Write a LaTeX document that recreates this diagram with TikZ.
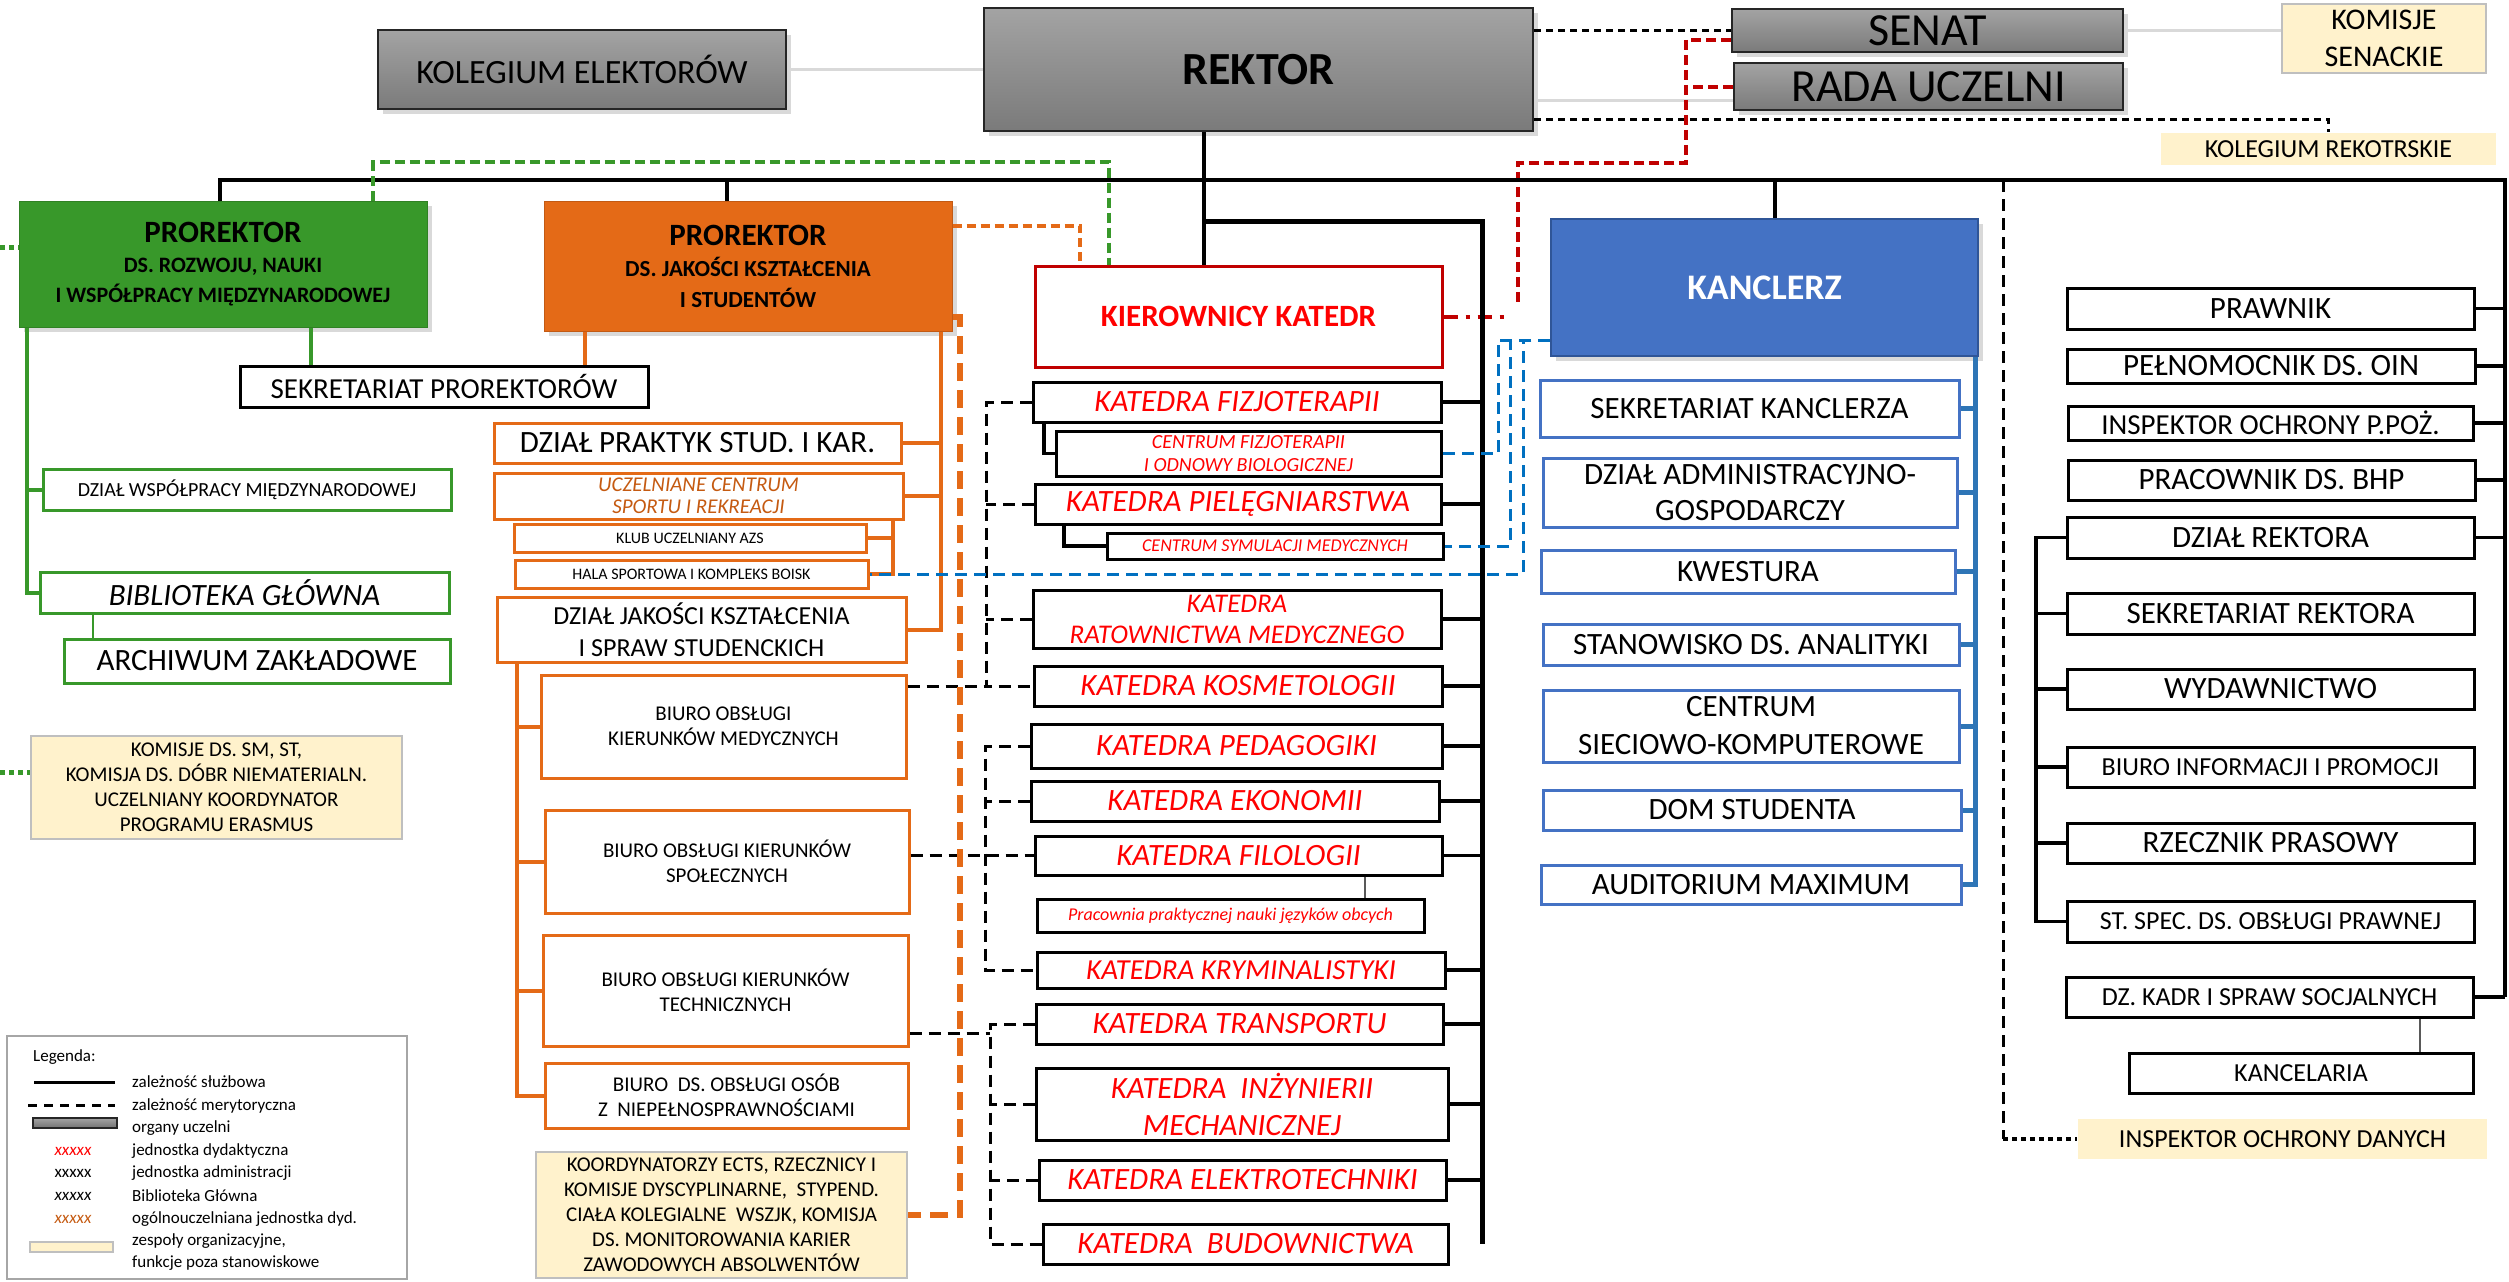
\documentclass[tikz,border=0pt]{standalone}
\usepackage{fontspec}
\setmainfont{Carlito}
\usepackage{tikz}
\usetikzlibrary{shadows}

\definecolor{grn}{HTML}{38982A}
\definecolor{orng}{HTML}{E46A17}
\definecolor{kblue}{HTML}{4472C4}
\definecolor{kblueb}{HTML}{2F5597}
\definecolor{cream}{HTML}{FFF2CC}
\definecolor{creamb}{HTML}{BFBFBF}
\definecolor{kred}{HTML}{FF0000}
\definecolor{dred}{HTML}{C00000}
\definecolor{brwn}{HTML}{C55A11}
\definecolor{ldblue}{HTML}{0070C0}
\definecolor{trblue}{HTML}{2E75B6}
\definecolor{lgray}{HTML}{D9D9D9}

\newcommand{\fsz}[2]{\fontsize{#1}{#2}\selectfont}

\tikzset{
  shad/.style={drop shadow={shadow xshift=5pt, shadow yshift=-5pt, opacity=.3}},
  organ/.style={draw=black!85, line width=2.5pt, top color=black!36, bottom color=black!52, shad, inner sep=0pt, align=center},
  team/.style={draw=creamb, line width=2pt, fill=cream, inner sep=0pt, align=center},
  unit/.style={draw, line width=3pt, fill=white, inner sep=0pt, align=center, font=\fsz{31}{37}},
  katbox/.style={unit, text=kred, font=\fsz{31}{37}\itshape},
  obox/.style={unit, draw=orng},
  gbox/.style={unit, draw=grn},
  kbox/.style={unit, draw=kblue},
  legtxt/.style={inner sep=0pt, anchor=west, font=\fsz{17}{20}},
  kline/.style={line width=3.5pt},
  bus/.style={line width=4.5pt},
  kdash/.style={line width=3pt, dash pattern=on 12pt off 7pt},
  kdot/.style={line width=3.5pt, dash pattern=on 7pt off 5pt},
  gline/.style={grn, line width=4pt},
  gthin/.style={grn, line width=2pt},
  gdash/.style={grn, line width=4.5pt, dash pattern=on 10pt off 5pt},
  gdot/.style={grn, line width=5pt, dash pattern=on 5pt off 4pt},
  oline/.style={orng, line width=4pt},
  odash/.style={orng, line width=6pt, dash pattern=on 18pt off 9pt},
  odashb/.style={orng, line width=4pt, dash pattern=on 9pt off 5pt},
  rdash/.style={dred, line width=4pt, dash pattern=on 10pt off 5pt},
  rdashdot/.style={dred, line width=4pt, dash pattern=on 14pt off 8pt on 4pt off 8pt},
  bdash/.style={ldblue, line width=3pt, dash pattern=on 12pt off 7pt},
  bline/.style={trblue, line width=5pt},
  glink/.style={lgray, line width=3pt},
  thinlink/.style={black!65, line width=2pt}
}

\begin{document}
\begin{tikzpicture}[x=1pt,y=-1pt]
\useasboundingbox (0,0) rectangle (2509,1282);

% organy uczelni
\node[organ, minimum width=408, minimum height=79, font=\fsz{34}{40}] (kolegium) at (582,69.5) {KOLEGIUM ELEKTORÓW};
\node[organ, minimum width=549, minimum height=123, font=\fsz{46}{52}\bfseries] (rektor) at (1258.5,69.5) {REKTOR};
\node[organ, minimum width=391, minimum height=43, font=\fsz{46}{52}] (senat) at (1927.5,30.5) {SENAT};
\node[organ, minimum width=389, minimum height=47, font=\fsz{46}{52}] (rada) at (1928.5,86.5) {RADA UCZELNI};
\node[team, minimum width=204, minimum height=69, font=\fsz{30}{37}] (komsen) at (2384,38.5) {KOMISJE\\SENACKIE};
\node[team, draw=none, minimum width=335, minimum height=32, font=\fsz{26}{30}] (kolrekt) at (2328.5,149) {KOLEGIUM REKOTRSKIE};

% prorektorzy
\node[fill=grn, draw=grn!85!black, line width=1pt, shad, inner sep=0pt, align=center, minimum width=408, minimum height=126, font=\fsz{22}{30}\bfseries] (gpro) at (223,264) {{\fsz{31}{30}PROREKTOR}\\DS. ROZWOJU, NAUKI\\I WSPÓŁPRACY MIĘDZYNARODOWEJ};
\node[fill=orng, draw=orng!85!black, line width=1pt, shad, inner sep=0pt, align=center, minimum width=408, minimum height=130, font=\fsz{23}{31}\bfseries] (opro) at (748,266) {{\fsz{31}{30}PROREKTOR}\\DS. JAKOŚCI KSZTAŁCENIA\\I STUDENTÓW};
\node[unit, minimum width=408, minimum height=41, font=\fsz{29}{34}] (sekrpro) at (444,386.5) {SEKRETARIAT PROREKTORÓW};

% pion prorektora ds. rozwoju
\node[gbox, minimum width=408, minimum height=41, font=\fsz{20}{24}] (dwsp) at (247,489.5) {DZIAŁ WSPÓŁPRACY MIĘDZYNARODOWEJ};
\node[gbox, minimum width=409, minimum height=41, font=\fsz{31}{36}\itshape] (bib) at (244.5,592.5) {BIBLIOTEKA GŁÓWNA};
\node[gbox, minimum width=386, minimum height=44, font=\fsz{31}{36}] (arch) at (257,661) {ARCHIWUM ZAKŁADOWE};
\node[team, minimum width=371, minimum height=103, font=\fsz{21}{25}] (ksm) at (216.5,787.5) {KOMISJE DS. SM, ST,\\KOMISJA DS. DÓBR NIEMATERIALN.\\UCZELNIANY KOORDYNATOR\\PROGRAMU ERASMUS};

% pion prorektora ds. jakosci
\node[obox, minimum width=407, minimum height=40] (praktyk) at (697.5,443) {DZIAŁ PRAKTYK STUD. I KAR.};
\node[obox, minimum width=409, minimum height=46, text=brwn, font=\fsz{21}{22}\itshape] (ucsport) at (698.5,496) {UCZELNIANE CENTRUM\\SPORTU I REKREACJI};
\node[obox, minimum width=352, minimum height=28, font=\fsz{16}{18}] (klub) at (690,538) {KLUB UCZELNIANY AZS};
\node[obox, minimum width=353, minimum height=28, font=\fsz{16}{18}] (hala) at (691.5,574) {HALA SPORTOWA I KOMPLEKS BOISK};
\node[obox, minimum width=409, minimum height=65, font=\fsz{26}{32}] (djak) at (701.5,629.5) {DZIAŁ JAKOŚCI KSZTAŁCENIA\\I SPRAW STUDENCKICH};
\node[obox, minimum width=365, minimum height=103, font=\fsz{21}{25}] (bmed) at (723.5,726.5) {BIURO OBSŁUGI\\KIERUNKÓW MEDYCZNYCH};
\node[obox, minimum width=364, minimum height=103, font=\fsz{21}{25}] (bspol) at (727,861.5) {BIURO OBSŁUGI KIERUNKÓW\\SPOŁECZNYCH};
\node[obox, minimum width=365, minimum height=111, font=\fsz{21}{25}] (btech) at (725.5,990.5) {BIURO OBSŁUGI KIERUNKÓW\\TECHNICZNYCH};
\node[obox, minimum width=363, minimum height=65, font=\fsz{21}{25}] (bniep) at (726.5,1095.5) {BIURO\ \ DS. OBSŁUGI OSÓB\\Z\ \ NIEPEŁNOSPRAWNOŚCIAMI};
\node[team, minimum width=371, minimum height=126, font=\fsz{21}{25}] (koord) at (721.5,1215) {KOORDYNATORZY ECTS, RZECZNICY I\\KOMISJE DYSCYPLINARNE,\ \ STYPEND.\\CIAŁA KOLEGIALNE\ \ WSZJK, KOMISJA\\DS. MONITOROWANIA KARIER\\ZAWODOWYCH ABSOLWENTÓW};

% katedry
\node[unit, draw=dred, text=kred, minimum width=407, minimum height=101, font=\fsz{31}{37}\bfseries] (kier) at (1238.5,316.5) {KIEROWNICY KATEDR};
\node[katbox, minimum width=408, minimum height=40] (kfizjo) at (1237,402) {KATEDRA FIZJOTERAPII};
\node[katbox, minimum width=385, minimum height=45, font=\fsz{20}{23}\itshape] (cfizjo) at (1248.5,453.5) {CENTRUM FIZJOTERAPII\\I ODNOWY BIOLOGICZNEJ};
\node[katbox, minimum width=406, minimum height=40] (kpiel) at (1238,504) {KATEDRA PIELĘGNIARSTWA};
\node[katbox, minimum width=336, minimum height=26, font=\fsz{18}{22}\itshape] (csym) at (1275,546) {CENTRUM SYMULACJI MEDYCZNYCH};
\node[katbox, minimum width=408, minimum height=58, font=\fsz{27}{31}\itshape] (kratow) at (1237,619) {KATEDRA\\RATOWNICTWA MEDYCZNEGO};
\node[katbox, minimum width=408, minimum height=40] (kkosm) at (1238,686) {KATEDRA KOSMETOLOGII};
\node[katbox, minimum width=411, minimum height=44] (kpedag) at (1236.5,746) {KATEDRA PEDAGOGIKI};
\node[katbox, minimum width=408, minimum height=40] (kekon) at (1235,801) {KATEDRA EKONOMII};
\node[katbox, minimum width=407, minimum height=39] (kfilol) at (1238.5,855.5) {KATEDRA FILOLOGII};
\node[katbox, minimum width=387, minimum height=33, font=\fsz{18}{22}\itshape] (prac) at (1230.5,915.5) {Pracownia praktycznej nauki języków obcych};
\node[katbox, minimum width=408, minimum height=36, font=\fsz{29}{34}\itshape] (kkrym) at (1241,970) {KATEDRA KRYMINALISTYKI};
\node[katbox, minimum width=407, minimum height=40] (ktransp) at (1239.5,1024) {KATEDRA TRANSPORTU};
\node[katbox, minimum width=412, minimum height=72] (kinz) at (1242,1104) {KATEDRA\ \ INŻYNIERII\\MECHANICZNEJ};
\node[katbox, minimum width=407, minimum height=40] (kelektro) at (1242.5,1180) {KATEDRA ELEKTROTECHNIKI};
\node[katbox, minimum width=405, minimum height=40] (kbudow) at (1245.5,1244) {KATEDRA\ \ BUDOWNICTWA};

% kanclerz
\node[fill=kblue, draw=kblueb, line width=2pt, shad, text=white, inner sep=0pt, minimum width=427, minimum height=137, font=\fsz{36}{40}\bfseries] (kanc) at (1764.5,287.5) {KANCLERZ};
\node[kbox, minimum width=419, minimum height=57] (sekrk) at (1749.5,408.5) {SEKRETARIAT KANCLERZA};
\node[kbox, minimum width=414, minimum height=69, font=\fsz{31}{36}] (admin) at (1750,492.5) {DZIAŁ ADMINISTRACYJNO-\\GOSPODARCZY};
\node[kbox, minimum width=414, minimum height=43] (kwest) at (1748,571.5) {KWESTURA};
\node[kbox, minimum width=416, minimum height=41] (anal) at (1751,644.5) {STANOWISKO DS. ANALITYKI};
\node[kbox, minimum width=416, minimum height=72, font=\fsz{31}{38}] (csiec) at (1751,726) {CENTRUM\\SIECIOWO-KOMPUTEROWE};
\node[kbox, minimum width=418, minimum height=40] (dom) at (1752,810) {DOM STUDENTA};
\node[kbox, minimum width=420, minimum height=39] (audit) at (1751,884.5) {AUDITORIUM MAXIMUM};

% jednostki podlegle rektorowi
\node[unit, minimum width=407, minimum height=41] (prawnik) at (2270.5,308.5) {PRAWNIK};
\node[unit, minimum width=408, minimum height=34] (oin) at (2271,366) {PEŁNOMOCNIK DS. OIN};
\node[unit, minimum width=405, minimum height=34, font=\fsz{29}{34}] (ppoz) at (2270.5,423) {INSPEKTOR OCHRONY P.POŻ.};
\node[unit, minimum width=407, minimum height=40] (bhp) at (2271.5,480) {PRACOWNIK DS. BHP};
\node[unit, minimum width=407, minimum height=41] (dzrek) at (2270.5,537.5) {DZIAŁ REKTORA};
\node[unit, minimum width=407, minimum height=41] (sekrek) at (2270.5,613.5) {SEKRETARIAT REKTORA};
\node[unit, minimum width=407, minimum height=40] (wyd) at (2270.5,689) {WYDAWNICTWO};
\node[unit, minimum width=407, minimum height=40, font=\fsz{26}{30}] (bip) at (2270.5,767) {BIURO INFORMACJI I PROMOCJI};
\node[unit, minimum width=407, minimum height=40] (rzecz) at (2270.5,843) {RZECZNIK PRASOWY};
\node[unit, minimum width=407, minimum height=41, font=\fsz{26}{30}] (stspec) at (2270.5,921.5) {ST. SPEC. DS. OBSŁUGI PRAWNEJ};
\node[unit, minimum width=407, minimum height=40, font=\fsz{26}{30}] (dzkadr) at (2269.5,997) {DZ. KADR I SPRAW SOCJALNYCH};
\node[unit, minimum width=344, minimum height=40, font=\fsz{26}{30}] (kancel) at (2301,1073) {KANCELARIA};
\node[team, draw=none, minimum width=409, minimum height=40, font=\fsz{26}{30}] (iod) at (2282.5,1139) {INSPEKTOR OCHRONY DANYCH};

% polaczenia organow
\draw[glink] (kolegium.east) -- (rektor.west);
\draw[kdot] (rektor.east |- senat.west) -- (senat.west);
\draw[glink] (rektor.east |- 0,100) -- (rada.west |- 0,100);
\draw[glink] (senat.east) -- (komsen.west |- senat.east);
\draw[kdot] ([yshift=13pt]rektor.south east) -| (kolrekt.north);
\draw[rdash] ([yshift=-9pt]senat.west) -| (1686,163) -| (1518,305);
\draw[rdash] (rada.west) -- (1686,0 |- rada.west);
\draw[rdashdot] (kier.east) -- (1505,0 |- kier.east);

% zaleznosc sluzbowa
\draw[bus] (220,0 |- gpro.north) |- (2505,180) -- (2505,0 |- dzkadr.east);
\draw[bus] (727,0 |- opro.north) -- (727,180);
\draw[kline] (1204,0 |- rektor.south) -- (1204,0 |- kier.north);
\draw[kline] (1775,0 |- kanc.north) -- (1775,180);
\draw[line width=5pt] (1204,221) -| (1482,0 |- kbudow.east);
\draw[kline] (kfizjo.east) -- (1482,0 |- kfizjo.east);
\draw[kline] (kpiel.east) -- (1482,0 |- kpiel.east);
\draw[kline] (kratow.east) -- (1482,0 |- kratow.east);
\draw[kline] (kkosm.east) -- (1482,0 |- kkosm.east);
\draw[kline] (kpedag.east) -- (1482,0 |- kpedag.east);
\draw[kline] (kekon.east) -- (1482,0 |- kekon.east);
\draw[kline] (kfilol.east) -- (1482,0 |- kfilol.east);
\draw[kline] (kkrym.east) -- (1482,0 |- kkrym.east);
\draw[kline] (ktransp.east) -- (1482,0 |- ktransp.east);
\draw[kline] (kinz.east) -- (1482,0 |- kinz.east);
\draw[kline] (kelektro.east) -- (1482,0 |- kelektro.east);
\draw[kline] (kfizjo.south -| 1044,0) |- (cfizjo.west);
\draw[kline] (kpiel.south -| 1064,0) |- (csym.west);
\draw[thinlink] (kfilol.south -| 1365,0) -- (prac.north -| 1365,0);

% zaleznosc merytoryczna - katedry
\draw[kdash] (kfizjo.west) -| (986,0 |- kkosm.west) -- (kkosm.west);
\draw[kdash] (kpiel.west) -- (986,0 |- kpiel.west);
\draw[kdash] (kratow.west) -- (986,0 |- kratow.west);
\draw[kdash] (bmed.east |- kkosm.west) -- (986,0 |- kkosm.west);
\draw[kdash] (kpedag.west) -| (985,0 |- kkrym.west) -- (kkrym.west);
\draw[kdash] (kekon.west) -- (985,0 |- kekon.west);
\draw[kdash] (bspol.east |- kfilol.west) -- (kfilol.west);
\draw[kdash] (ktransp.west) -| (990,0 |- kbudow.west) -- (kbudow.west);
\draw[kdash] (kinz.west) -- (990,0 |- kinz.west);
\draw[kdash] (kelektro.west) -- (990,0 |- kelektro.west);
\coordinate (tj) at (990,1033);
\draw[kdash] (btech.east |- tj) -- (tj);

% pion zielony
\draw[gline] (27,0 |- gpro.south) |- (bib.west);
\draw[gline] (dwsp.west) -- (27,0 |- dwsp.west);
\draw[gthin] (93,0 |- bib.south) -- (93,0 |- arch.north);
\draw[gline] (311,0 |- gpro.south) -- (311,0 |- sekrpro.north);
\draw[gdash] (373,0 |- gpro.north) |- (1109,162) -- (1109,0 |- kier.north);
\coordinate (gl1) at (0,247);
\coordinate (gl2) at (0,772);
\draw[gdot] (gl1) -- (gpro.west |- gl1);
\draw[gdot] (gl2) -- (ksm.west |- gl2);

% pion pomaranczowy
\draw[oline] (585,0 |- opro.south) -- (585,0 |- sekrpro.north);
\draw[oline] (941,0 |- opro.south) |- (djak.east);
\draw[oline] (praktyk.east) -- (941,0 |- praktyk.east);
\draw[oline] (ucsport.east) -- (941,0 |- ucsport.east);
\draw[oline] (893,0 |- ucsport.south) |- (hala.east);
\draw[oline] (klub.east) -- (893,0 |- klub.east);
\draw[oline] (517,0 |- djak.south) |- (bniep.west);
\draw[oline] (bmed.west) -- (517,0 |- bmed.west);
\draw[oline] (bspol.west) -- (517,0 |- bspol.west);
\draw[oline] (btech.west) -- (517,0 |- btech.west);
\draw[odash] ([yshift=15pt]opro.south east) -| (960,0 |- koord.east) -- (koord.east);
\draw[odashb] ([yshift=-25pt]opro.north east) -| (1080,0 |- kier.north);

% pion kanclerza
\draw[bline] (1975,0 |- kanc.south) |- (audit.east);
\draw[bline] (sekrk.east) -- (1975,0 |- sekrk.east);
\draw[bline] (admin.east) -- (1975,0 |- admin.east);
\draw[bline] (kwest.east) -- (1975,0 |- kwest.east);
\draw[bline] (anal.east) -- (1975,0 |- anal.east);
\draw[bline] (csiec.east) -- (1975,0 |- csiec.east);
\draw[bline] (dom.east) -- (1975,0 |- dom.east);
\draw[bdash] ([yshift=17pt]kanc.south west) -| (1498,0 |- cfizjo.east) -- (cfizjo.east);
\draw[bdash] ([yshift=17pt]kanc.south west) -| (1510,0 |- csym.east) -- (csym.east);
\draw[bdash] ([yshift=17pt]kanc.south west) -| (1523,0 |- hala.east) -- (hala.east);

% prawa kolumna
\draw[kline] (prawnik.east) -- (2505,0 |- prawnik.east);
\draw[kline] (oin.east) -- (2505,0 |- oin.east);
\draw[kline] (ppoz.east) -- (2505,0 |- ppoz.east);
\draw[kline] (bhp.east) -- (2505,0 |- bhp.east);
\draw[kline] (dzrek.east) -- (2505,0 |- dzrek.east);
\draw[kline] (dzkadr.east) -- (2505,0 |- dzkadr.east);
\draw[kline] (dzrek.west) -| (2036,0 |- stspec.west) -- (stspec.west);
\draw[kline] (sekrek.west) -- (2036,0 |- sekrek.west);
\draw[kline] (wyd.west) -- (2036,0 |- wyd.west);
\draw[kline] (bip.west) -- (2036,0 |- bip.west);
\draw[kline] (rzecz.west) -- (2036,0 |- rzecz.west);
\draw[thinlink] (2420,0 |- dzkadr.south) -- (2420,0 |- kancel.north);
\draw[kdash] (2003,180) -- (2003,0 |- iod.west);
\draw[line width=4pt, dash pattern=on 5pt off 4pt] (2003,0 |- iod.west) -- (iod.west);

% legenda
\node[draw=black!35, line width=2.5pt, minimum width=400, minimum height=243] (leg) at (207,1157.5) {};
\node[legtxt] (l0) at (33,1057) {Legenda:};
\draw[line width=3pt] (34,1082) -- (115,1082);
\node[legtxt] (l1) at (132,1082) {zależność służbowa};
\draw[line width=3pt, dash pattern=on 9pt off 7pt] (28,1105) -- (115,1105);
\node[legtxt] (l2) at (132,1106) {zależność merytoryczna};
\path[draw=black!85, line width=2pt, top color=black!36, bottom color=black!55] (33,1118) rectangle (117,1128);
\node[legtxt] (l3) at (132,1128) {organy uczelni};
\node[legtxt, anchor=center, text=kred, font=\fsz{17}{20}\itshape] (x1) at (73,1151) {xxxxx};
\node[legtxt] (l4) at (132,1151) {jednostka dydaktyczna};
\node[legtxt, anchor=center] (x2) at (73,1173) {xxxxx};
\node[legtxt] (l5) at (132,1173) {jednostka administracji};
\node[legtxt, anchor=center, font=\fsz{17}{20}\itshape] (x3) at (73,1196) {xxxxx};
\node[legtxt] (l6) at (132,1196) {Biblioteka Główna};
\node[legtxt, anchor=center, text=brwn, font=\fsz{17}{20}\itshape] (x4) at (73,1219) {xxxxx};
\node[legtxt] (l7) at (132,1219) {ogólnouczelniana jednostka dyd.};
\path[fill=cream, draw=creamb, line width=1.5pt] (30,1242) rectangle (113,1252);
\node[legtxt] (l8) at (132,1241) {zespoły organizacyjne,};
\node[legtxt] (l9) at (132,1263) {funkcje poza stanowiskowe};
\end{tikzpicture}
\end{document}
